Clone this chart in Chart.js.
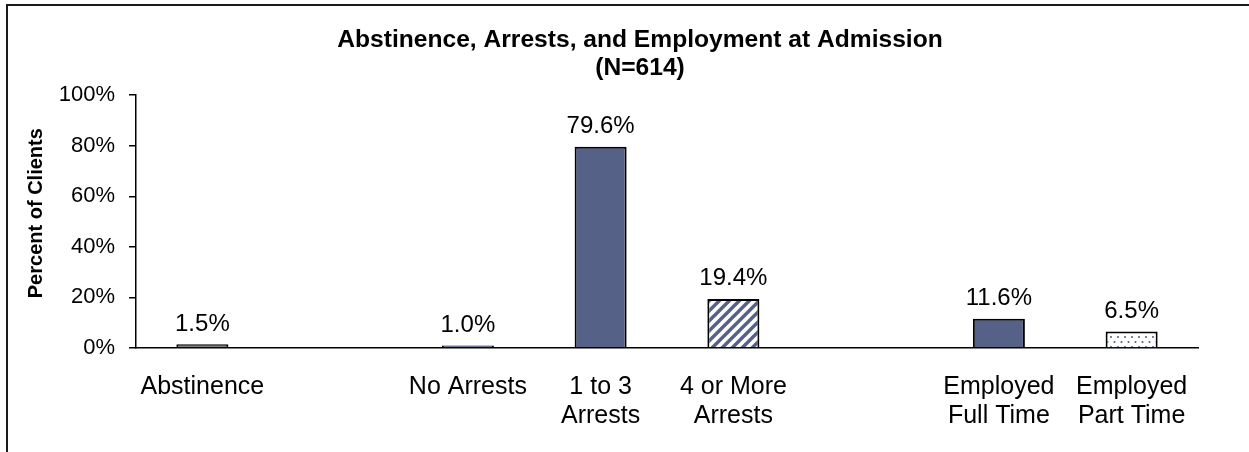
<!DOCTYPE html>
<html>
<head>
<meta charset="utf-8">
<script src="https://cdn.jsdelivr.net/npm/chart.js@4.4.1/dist/chart.umd.min.js"></script>
<style>
  html, body { margin: 0; padding: 0; background: #fff; }
  canvas { display: block; }
</style>
</head>
<body>
<canvas id="chart" width="1249" height="452"></canvas>
<script>
// ---- data ----
const categories = [
  'Abstinence',
  '',
  'No Arrests',
  ['1 to 3', 'Arrests'],
  ['4 or More', 'Arrests'],
  '',
  ['Employed', 'Full Time'],
  ['Employed', 'Part Time']
];
const percentClients = [1.5, null, 1.0, 79.6, 19.4, null, 11.6, 6.5];
const yTickValues = [0, 20, 40, 60, 80, 100];
const chartTitle = ['Abstinence, Arrests, and Employment at Admission', '(N=614)'];
const yAxisTitle = 'Percent of Clients';

// ---- styles ----
const FONT = '"Liberation Sans", Arial, Helvetica, sans-serif';
const SLATE = '#566187';
const barFillKinds = ['grey', 'solid', 'solid', 'solid', 'stripes', 'solid', 'solid', 'dots'];

function stripePattern(color) {
  const s = 10;
  const c = document.createElement('canvas');
  c.width = s; c.height = s;
  const g = c.getContext('2d');
  g.fillStyle = '#fff';
  g.fillRect(0, 0, s, s);
  g.strokeStyle = color;
  g.lineWidth = 3.4;
  g.beginPath();
  g.moveTo(0, s); g.lineTo(s, 0);
  g.moveTo(-2, 2); g.lineTo(2, -2);
  g.moveTo(s - 2, s + 2); g.lineTo(s + 2, s - 2);
  g.stroke();
  return g.createPattern(c, 'repeat');
}

function dotPattern(color) {
  const w = 7, h = 10;
  const c = document.createElement('canvas');
  c.width = w; c.height = h;
  const g = c.getContext('2d');
  g.fillStyle = '#fff';
  g.fillRect(0, 0, w, h);
  g.fillStyle = color;
  g.beginPath(); g.arc(1.5, 2, 1.0, 0, Math.PI * 2); g.fill();
  g.beginPath(); g.arc(5, 7, 1.0, 0, Math.PI * 2); g.fill();
  return g.createPattern(c, 'repeat');
}

const fills = {
  solid: SLATE,
  grey: '#808080',
  stripes: stripePattern(SLATE),
  dots: dotPattern('#4f5a85')
};
const barColors = barFillKinds.map(k => fills[k]);

// value labels above each bar, positioned from the bar elements
const valueLabels = {
  id: 'valueLabels',
  afterDatasetsDraw(chart) {
    const { ctx } = chart;
    const meta = chart.getDatasetMeta(0);
    const values = chart.data.datasets[0].data;
    ctx.save();
    ctx.font = '24px ' + FONT;
    ctx.fillStyle = '#000';
    ctx.textAlign = 'center';
    ctx.textBaseline = 'alphabetic';
    meta.data.forEach((bar, i) => {
      const v = values[i];
      if (v == null) return;
      ctx.fillText(v.toFixed(1) + '%', bar.x, bar.y - 13.5);
    });
    ctx.restore();
  }
};

// center the chart title between x=82 and the plot's right edge
const titleSpan = {
  id: 'titleSpan',
  afterLayout(chart) {
    const t = chart.titleBlock;
    if (!t) return;
    t.left = 82;
    t.right = chart.chartArea.right;
    t.width = t.right - t.left;
  }
};

// outer frame along the top and left edges
const frame = {
  id: 'frame',
  beforeDraw(chart) {
    const { ctx, width, height } = chart;
    ctx.save();
    ctx.strokeStyle = '#1a1a1a';
    ctx.lineWidth = 2;
    ctx.beginPath();
    ctx.moveTo(width, 5);
    ctx.lineTo(7, 5);
    ctx.lineTo(7, height);
    ctx.stroke();
    ctx.restore();
  }
};

Chart.defaults.font.family = FONT;
Chart.defaults.color = '#000';

new Chart(document.getElementById('chart'), {
  type: 'bar',
  data: {
    labels: categories,
    datasets: [{
      data: percentClients,
      backgroundColor: barColors,
      borderColor: '#000',
      borderWidth: 2,
      barPercentage: 0.392,
      categoryPercentage: 1.0
    }]
  },
  options: {
    responsive: false,
    animation: false,
    events: [],
    layout: { padding: { left: 0, right: 51, top: 0, bottom: 0 } },
    plugins: {
      legend: { display: false },
      tooltip: { enabled: false },
      title: {
        display: true,
        text: chartTitle,
        color: '#000',
        font: { size: 24.6, weight: 'bold', lineHeight: 1.14 },
        padding: { top: 26, bottom: 13 }
      }
    },
    scales: {
      x: {
        offset: true,
        grid: { display: false, drawTicks: false },
        border: { display: true, color: '#000', width: 1.5 },
        ticks: {
          color: '#000',
          font: { size: 25, lineHeight: 1.16 },
          padding: 25,
          maxRotation: 0,
          autoSkip: false
        },
        afterFit(scale) { scale.height = 104; }
      },
      y: {
        min: 0,
        max: 100,
        afterBuildTicks(scale) { scale.ticks = yTickValues.map(v => ({ value: v })); },
        ticks: {
          color: '#000',
          font: { size: 22 },
          padding: 14,
          callback: v => v + '%'
        },
        grid: { drawOnChartArea: false, drawTicks: true, tickLength: 7, color: '#000', lineWidth: 1.5 },
        border: { display: true, color: '#000', width: 1.5 },
        title: {
          display: true,
          // leading spaces lift the rotated title slightly above the axis midpoint
          text: '\u00a0\u00a0\u00a0' + yAxisTitle,
          color: '#000',
          font: { size: 20, weight: 'bold', lineHeight: 1.2 },
          padding: { top: 24, bottom: 0 }
        },
        afterFit(scale) { scale.width = 136; }
      }
    }
  },
  plugins: [frame, titleSpan, valueLabels]
});
</script>
</body>
</html>
